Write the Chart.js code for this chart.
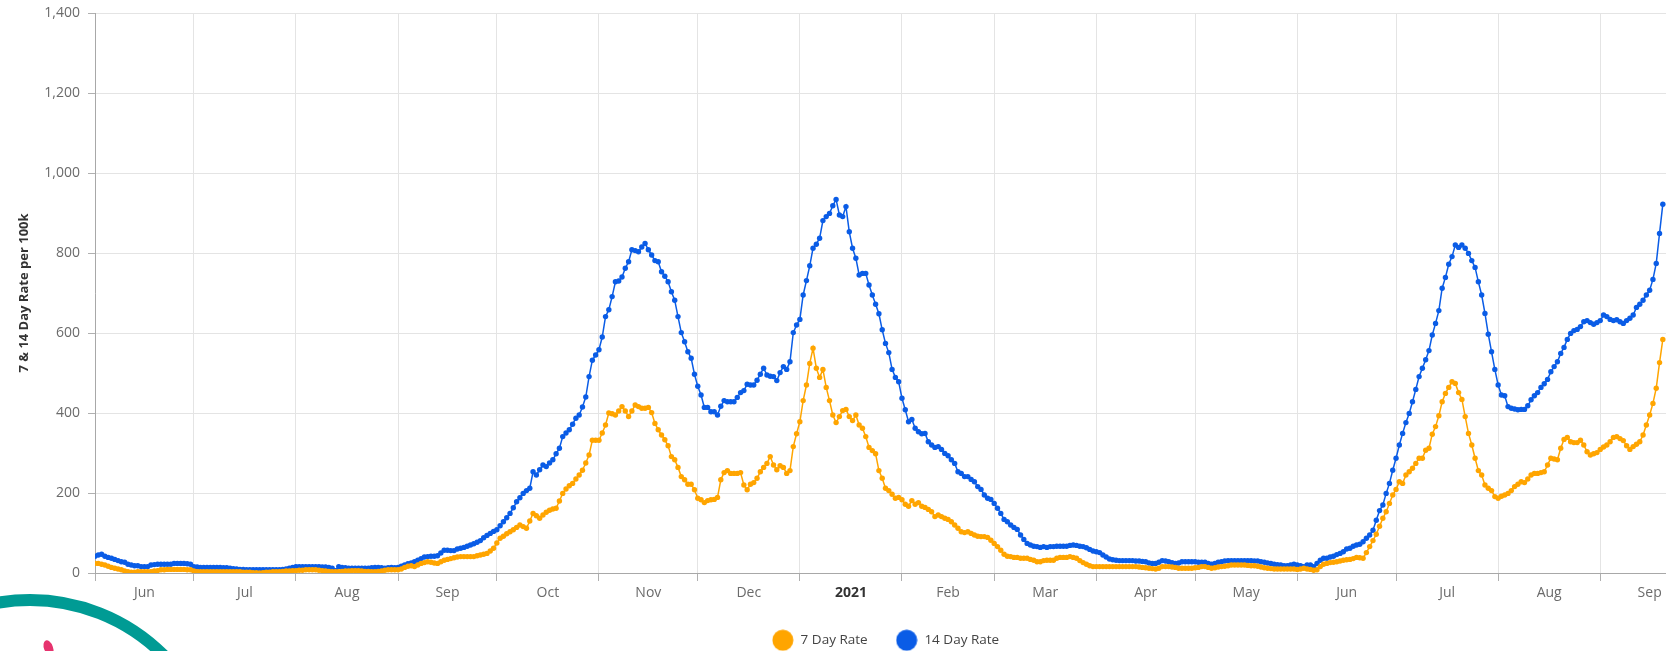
<!DOCTYPE html>
<html>
<head>
<meta charset="utf-8">
<script src="https://cdn.jsdelivr.net/npm/chart.js@4/dist/chart.umd.min.js"></script>
<style>
  html, body { margin: 0; padding: 0; overflow: hidden; background: #fff; }
  #wrap { position: relative; width: 1680px; height: 657px; }
  .ring {
    position: absolute; left: -165px; top: 594px; width: 390px; height: 390px;
    box-sizing: border-box; border: 12px solid #009b94; border-radius: 50%;
  }
  .petal {
    position: absolute; left: 44px; top: 640px; width: 9px; height: 16px;
    background: #e6336e; border-radius: 50%; transform: rotate(-20deg);
  }
</style>
</head>
<body>
<div id="wrap"><canvas id="chart"></canvas></div>
<div class="ring"></div>
<div class="petal"></div>
<script>
// day 0 = 1 Jun 2020, one value per day up to 20 Sep 2021
const monthStarts = [0, 30, 61, 92, 122, 153, 183, 214, 245, 273, 304, 334, 365, 395, 426, 457, 487];
const monthNames = ["Jun", "Jul", "Aug", "Sep", "Oct", "Nov", "Dec", "2021", "Feb", "Mar", "Apr", "May", "Jun", "Jul", "Aug", "Sep"];
const yTicks = [0, 200, 400, 600, 800, 1000, 1200, 1400];

const sevenDay = [
  24, 24, 22, 20, 17, 14, 12, 10, 8, 5,
  3, 2, 2, 3, 3, 3, 3, 3, 5, 6,
  8, 8, 9, 9, 9, 9, 9, 9, 8, 8,
  5, 3, 3, 3, 3, 3, 3, 3, 3, 3,
  3, 3, 3, 3, 3, 2, 2, 2, 1, 1,
  0, 1, 2, 2, 3, 3, 3, 4, 5, 5,
  6, 6, 7, 7, 8, 8, 8, 8, 7, 6,
  5, 4, 3, 3, 3, 4, 5, 5, 6, 6,
  6, 5, 4, 4, 3, 3, 4, 5, 7, 8,
  8, 8, 8, 10, 14, 17, 18, 16, 20, 24,
  26, 28, 27, 25, 24, 28, 32, 34, 36, 38,
  40, 41, 41, 41, 41, 41, 43, 45, 47, 49,
  55, 62, 75, 87, 92, 98, 103, 108, 114, 120,
  116, 112, 130, 149, 143, 137, 145, 152, 157, 160,
  162, 180, 199, 210, 218, 224, 235, 245, 257, 275,
  295, 332, 332, 332, 350, 370, 400, 398, 395, 405,
  416, 405, 391, 405, 420, 416, 412, 412, 414, 401,
  374, 358, 345, 333, 318, 291, 283, 264, 241, 233,
  222, 222, 208, 187, 183, 176, 181, 183, 184, 189,
  233, 251, 256, 249, 249, 249, 251, 220, 208, 222,
  226, 237, 253, 264, 274, 291, 270, 258, 268, 264,
  249, 256, 316, 348, 378, 431, 470, 524, 562, 512,
  489, 509, 464, 431, 395, 376, 391, 406, 409, 391,
  381, 395, 370, 362, 341, 314, 306, 298, 256, 237,
  212, 206, 197, 187, 189, 183, 172, 167, 181, 172,
  176, 167, 164, 159, 153, 141, 145, 141, 137, 134,
  128, 120, 112, 103, 101, 103, 99, 95, 92, 91,
  91, 89, 82, 74, 66, 57, 47, 42, 41, 39,
  39, 37, 37, 37, 34, 32, 28, 28, 31, 32,
  32, 32, 37, 39, 39, 39, 41, 39, 37, 31,
  26, 22, 18, 16, 16, 16, 16, 16, 16, 16,
  16, 16, 16, 16, 16, 16, 16, 15, 14, 13,
  12, 11, 10, 12, 16, 16, 16, 15, 14, 12,
  12, 12, 12, 12, 13, 14, 16, 16, 14, 12,
  13, 15, 16, 17, 18, 20, 20, 20, 20, 20,
  19, 18, 18, 17, 15, 13, 12, 11, 10, 10,
  10, 10, 10, 10, 10, 9, 10, 12, 10, 9,
  7, 8, 16, 22, 24, 26, 27, 28, 30, 32,
  33, 34, 36, 39, 38, 37, 51, 66, 81, 97,
  117, 137, 153, 174, 195, 209, 228, 224, 245, 253,
  262, 274, 287, 287, 307, 312, 347, 366, 393, 428,
  449, 464, 478, 474, 451, 434, 391, 349, 320, 287,
  256, 245, 220, 212, 206, 191, 187, 192, 195, 199,
  206, 216, 222, 228, 226, 235, 245, 249, 249, 251,
  253, 270, 287, 285, 283, 312, 334, 339, 328, 326,
  326, 332, 320, 303, 295, 298, 301, 309, 315, 320,
  328, 339, 341, 336, 331, 318, 309, 316, 322, 328,
  345, 370, 395, 424, 462, 526, 584
];

const fourteenDay = [
  42, 45, 47, 42, 39, 37, 34, 31, 28, 27,
  22, 20, 18, 18, 16, 16, 16, 20, 21, 22,
  22, 22, 22, 22, 24, 24, 24, 24, 23, 22,
  16, 15, 14, 14, 14, 14, 14, 14, 14, 13,
  13, 12, 11, 10, 9, 9, 8, 8, 8, 8,
  8, 8, 8, 8, 8, 8, 8, 9, 10, 12,
  14, 16, 16, 16, 16, 16, 16, 16, 16, 15,
  15, 14, 12, 6, 16, 14, 13, 12, 12, 12,
  12, 12, 12, 12, 13, 14, 14, 13, 12, 13,
  14, 13, 14, 17, 20, 23, 25, 28, 32, 36,
  40, 41, 42, 42, 43, 50, 57, 57, 56, 56,
  60, 62, 64, 67, 70, 73, 77, 81, 88, 94,
  99, 104, 108, 118, 128, 138, 149, 163, 178, 188,
  199, 206, 212, 253, 245, 258, 270, 266, 275, 283,
  298, 312, 341, 350, 358, 372, 387, 395, 415, 440,
  491, 532, 545, 558, 590, 641, 658, 691, 728, 730,
  740, 762, 778, 808, 806, 803, 815, 824, 808, 795,
  781, 778, 753, 742, 728, 703, 682, 641, 601, 578,
  553, 537, 497, 467, 445, 414, 414, 403, 403, 395,
  417, 431, 428, 428, 428, 439, 451, 456, 472, 470,
  470, 482, 497, 512, 495, 492, 491, 481, 501, 516,
  509, 528, 601, 620, 634, 695, 731, 768, 812, 822,
  837, 881, 891, 899, 918, 934, 895, 891, 916, 853,
  812, 787, 745, 749, 749, 720, 695, 672, 648, 608,
  574, 551, 509, 489, 478, 437, 408, 378, 384, 362,
  353, 348, 349, 328, 320, 314, 316, 309, 299, 293,
  283, 274, 253, 249, 241, 241, 234, 228, 216, 209,
  195, 187, 184, 174, 162, 149, 134, 128, 120, 114,
  109, 95, 84, 74, 70, 67, 66, 64, 66, 64,
  66, 66, 67, 67, 67, 67, 69, 70, 69, 67,
  66, 63, 59, 55, 53, 51, 45, 40, 35, 33,
  32, 31, 31, 31, 31, 31, 30, 30, 29, 28,
  25, 24, 24, 27, 31, 30, 28, 26, 24, 25,
  28, 28, 28, 28, 28, 27, 27, 27, 24, 22,
  24, 27, 28, 30, 31, 31, 31, 31, 31, 31,
  31, 31, 30, 30, 28, 27, 25, 24, 22, 21,
  20, 18, 18, 20, 22, 20, 18, 16, 20, 20,
  16, 24, 32, 37, 37, 40, 42, 46, 49, 53,
  60, 62, 67, 70, 72, 78, 87, 95, 107, 132,
  156, 170, 199, 224, 257, 287, 320, 349, 376, 399,
  428, 459, 491, 512, 533, 556, 595, 624, 656, 712,
  739, 772, 791, 820, 814, 820, 812, 799, 781, 764,
  728, 695, 649, 597, 553, 509, 470, 445, 443, 416,
  412, 410, 408, 409, 409, 418, 433, 443, 451, 464,
  473, 484, 503, 516, 528, 549, 564, 584, 599, 606,
  609, 616, 628, 631, 626, 622, 626, 631, 645, 641,
  634, 631, 633, 628, 624, 631, 637, 645, 664, 672,
  682, 695, 707, 734, 774, 849, 922
];

const ORANGE = "#FFA500";
const BLUE = "#0A5CE6";
const FONT = "'Open Sans', 'Noto Sans', sans-serif";
const X_MAX = 480;

// month-start ticks carry the grid lines, mid-month ticks carry the names
const midTicks = monthNames.map((n, i) => (monthStarts[i] + monthStarts[i + 1]) / 2);
const xTicks = monthStarts.concat(midTicks).filter(v => v <= X_MAX).sort((a, b) => a - b);

function tickVal(ctx) {
  return ctx && ctx.tick ? ctx.tick.value : null;
}
function monthLabel(v) {
  const i = midTicks.indexOf(v);
  return i >= 0 ? monthNames[i] : "";
}
function isStart(v) {
  return monthStarts.indexOf(v) >= 0;
}

function dot(color) {
  const c = document.createElement("canvas");
  c.width = 22; c.height = 22;
  const g = c.getContext("2d");
  g.fillStyle = color;
  g.beginPath();
  g.arc(11, 11, 10.5, 0, Math.PI * 2);
  g.fill();
  return c;
}
const legendDots = [dot(ORANGE), dot(BLUE)];

new Chart(document.getElementById("chart"), {
  type: "line",
  data: {
    datasets: [
      {
        label: "7 Day Rate",
        data: sevenDay.map((v, i) => ({ x: i, y: v })),
        borderColor: ORANGE,
        backgroundColor: ORANGE,
        borderWidth: 1.5,
        pointRadius: 2.7,
        pointBorderWidth: 0,
        tension: 0
      },
      {
        label: "14 Day Rate",
        data: fourteenDay.map((v, i) => ({ x: i, y: v })),
        borderColor: BLUE,
        backgroundColor: BLUE,
        borderWidth: 1.5,
        pointRadius: 2.7,
        pointBorderWidth: 0,
        tension: 0
      }
    ]
  },
  options: {
    responsive: true,
    maintainAspectRatio: false,
    animation: false,
    layout: { padding: { top: 13, left: 0, right: 0, bottom: 0 } },
    plugins: {
      tooltip: { enabled: false },
      legend: {
        position: "bottom",
        fullSize: false,
        labels: {
          usePointStyle: true,
          pointStyleWidth: 22,
          padding: 28,
          color: "#444",
          font: { family: FONT, size: 13.5 },
          generateLabels: (chart) => chart.data.datasets.map((ds, i) => ({
            text: ds.label,
            pointStyle: legendDots[i],
            fillStyle: ds.borderColor,
            strokeStyle: ds.borderColor,
            fontColor: "#444",
            lineWidth: 0,
            hidden: false,
            datasetIndex: i
          }))
        }
      }
    },
    scales: {
      x: {
        type: "linear",
        min: 0,
        max: X_MAX,
        afterBuildTicks: (axis) => { axis.ticks = xTicks.map(v => ({ value: v })); },
        afterFit: (axis) => { axis.height = 32.5; },
        border: { color: "#a8a8a8", width: 1 },
        grid: {
          color: (ctx) => isStart(tickVal(ctx)) ? "#e4e4e4" : "rgba(0,0,0,0)",
          tickColor: (ctx) => isStart(tickVal(ctx)) ? "#b0b0b0" : "rgba(0,0,0,0)",
          tickLength: 8
        },
        ticks: {
          autoSkip: false,
          maxRotation: 0,
          minRotation: 0,
          padding: 4,
          callback: (v) => monthLabel(v),
          color: (ctx) => monthLabel(tickVal(ctx)) === "2021" ? "#333" : "#6b6b6b",
          font: (ctx) => ({
            family: FONT,
            size: 14,
            weight: monthLabel(tickVal(ctx)) === "2021" ? "bold" : "normal"
          })
        }
      },
      y: {
        min: 0,
        max: 1400,
        afterBuildTicks: (axis) => { axis.ticks = yTicks.map(v => ({ value: v })); },
        afterFit: (axis) => {
          axis.width = 95;
          axis.paddingTop = 0;
          axis.paddingBottom = 0;
        },
        border: { color: "#a8a8a8", width: 1 },
        grid: { color: "#e4e4e4", tickColor: "#b0b0b0", tickLength: 7 },
        ticks: {
          padding: 8,
          color: "#6b6b6b",
          font: { family: FONT, size: 14 },
          callback: (v) => v.toLocaleString("en-US")
        },
        title: {
          display: true,
          text: "7 & 14 Day Rate per 100k",
          color: "#333",
          font: { family: FONT, size: 13, weight: "bold" },
          padding: { top: 16, bottom: 0 }
        }
      }
    }
  }
});
</script>
</body>
</html>
